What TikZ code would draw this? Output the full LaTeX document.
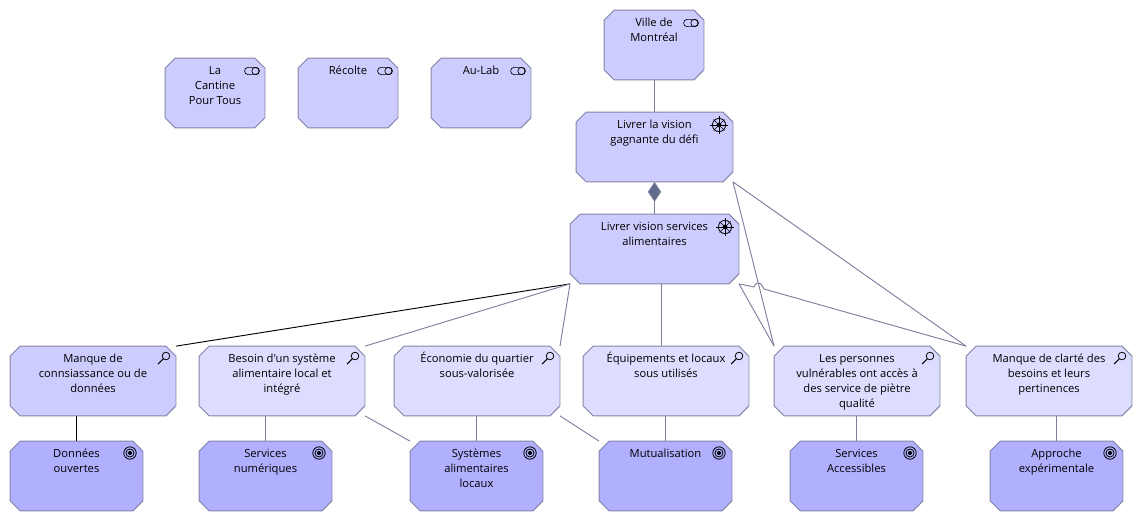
\documentclass[tikz,border=0pt]{standalone}
\usepackage{fontspec}
\newfontfamily\boxfont{Open Sans}
\usetikzlibrary{arrows.meta}
\definecolor{edgeblue}{HTML}{8484A8}
\definecolor{lineblue}{HTML}{7C7F9C}
\definecolor{diamblue}{HTML}{5F6A8C}
\definecolor{lightbox}{HTML}{CCCCFF}
\definecolor{paleboxc}{HTML}{DDDDFF}
\definecolor{darkbox}{HTML}{B0B0FF}
\tikzset{
	archibox/.style n args={3}{rectangle,inner sep=0pt,
		minimum width=(#1-0.6)*0.75pt,minimum height=(#2-0.8)*0.75pt,
		append after command={\pgfextra{
			\draw[fill=#3,draw=edgeblue,line width=0.7pt]
				([xshift=7.5pt]\tikzlastnode.north west) -- ([xshift=-7.5pt]\tikzlastnode.north east)
				-- ([yshift=-7.5pt]\tikzlastnode.north east) -- ([yshift=7.5pt]\tikzlastnode.south east)
				-- ([xshift=-7.5pt]\tikzlastnode.south east) -- ([xshift=7.5pt]\tikzlastnode.south west)
				-- ([yshift=7.5pt]\tikzlastnode.south west) -- ([yshift=-7.5pt]\tikzlastnode.north west) -- cycle;
		}}},
	boxtext/.style={anchor=north,align=center,font=\boxfont\fontsize{8.4}{11.25}\selectfont,inner sep=0pt,yshift=-6pt},
	conn/.style={draw=lineblue,line width=0.7pt},
	role/.pic={
		\draw[line width=0.5pt,rounded corners=2.6pt] (-7.4,-3.6) rectangle (7.4,3.6);
		\draw[line width=0.5pt] (3.4,0) circle[radius=3.6];
	},
	wheel/.pic={
		\draw[line width=0.6pt] (0,0) circle[radius=6.6];
		\fill (0,0) circle[radius=2.4];
		\draw[line width=0.5pt] (-9,0) -- (9,0) (0,-9) -- (0,9);
		\draw[line width=0.4pt] (-5.5,-5.5) -- (5.5,5.5) (-5.5,5.5) -- (5.5,-5.5);
	},
	loupe/.pic={
		\draw[line width=0.6pt] (2,-2) circle[radius=3.8];
		\draw[line width=0.8pt] (-0.8,0.8) -- (-6,6);
	},
	target/.pic={
		\draw[line width=0.6pt] (0,0) circle[radius=6.2];
		\draw[line width=0.6pt] (0,0) circle[radius=4];
		\fill (0,0) circle[radius=2];
	}
}
\begin{document}
\begin{tikzpicture}[x=0.75pt,y=-0.75pt]
	\useasboundingbox (0,0) rectangle (1142,521);
	% top row
	\node[archibox={100}{70}{lightbox}] (cantine) at (215,93) {};
	\node[boxtext] (cantinetxt) at (cantine.north) {La\\Cantine\\Pour Tous};
	\pic at (252,71) {role};
	\node[archibox={100}{70}{lightbox}] (recolte) at (348,93) {};
	\node[boxtext] (recoltetxt) at (recolte.north) {Récolte};
	\pic at (385,71) {role};
	\node[archibox={100}{70}{lightbox}] (aulab) at (481,93) {};
	\node[boxtext] (aulabtxt) at (aulab.north) {Au-Lab};
	\pic at (518,71) {role};
	\node[archibox={100}{70}{lightbox}] (ville) at (654,45) {};
	\node[boxtext] (villetxt) at (ville.north) {Ville de\\Montréal};
	\pic at (691,23) {role};
	% visions
	\node[archibox={157}{70}{lightbox}] (gagnante) at (654.5,147) {};
	\node[boxtext] (gagnantetxt) at (gagnante.north) {Livrer la vision\\gagnante du défi};
	\pic at (719,125) {wheel};
	\node[archibox={169}{70}{lightbox}] (services) at (654.5,249) {};
	\node[boxtext] (servicestxt) at (services.north) {Livrer vision services\\alimentaires};
	\pic at (725,227) {wheel};
	% constats
	\node[archibox={166}{70}{lightbox}] (manque) at (93,381) {};
	\node[boxtext] (manquetxt) at (manque.north) {Manque de\\connsiassance ou de\\données};
	\pic at (164,358) {loupe};
	\node[archibox={166}{70}{paleboxc}] (besoin) at (282,381) {};
	\node[boxtext] (besointxt) at (besoin.north) {Besoin d'un système\\alimentaire local et\\intégré};
	\pic at (353,358) {loupe};
	\node[archibox={166}{70}{paleboxc}] (economie) at (477,381) {};
	\node[boxtext,yshift=1.7pt] (economietxt) at (economie.north) {Économie du quartier\\sous-valorisée};
	\pic at (548,358) {loupe};
	\node[archibox={166}{70}{paleboxc}] (equipe) at (666,381) {};
	\node[boxtext,yshift=1.7pt] (equipetxt) at (equipe.north) {Équipements et locaux\\sous utilisés};
	\pic at (737,358) {loupe};
	\node[archibox={166}{70}{paleboxc}] (personnes) at (857,381) {};
	\node[boxtext] (personnestxt) at (personnes.north) {Les personnes\\vulnérables ont accès à\\des service de piètre\\qualité};
	\pic at (928,358) {loupe};
	\node[archibox={166}{70}{paleboxc}] (clarte) at (1049,381) {};
	\node[boxtext] (clartetxt) at (clarte.north) {Manque de clarté des\\besoins et leurs\\pertinences};
	\pic at (1120,358) {loupe};
	% objectifs
	\node[archibox={133}{70}{darkbox}] (ouvertes) at (76.5,476) {};
	\node[boxtext] (ouvertestxt) at (ouvertes.north) {Données\\ouvertes};
	\pic at (130,453) {target};
	\node[archibox={133}{70}{darkbox}] (numeriques) at (265.5,476) {};
	\node[boxtext] (numeriquestxt) at (numeriques.north) {Services\\numériques};
	\pic at (319,453) {target};
	\node[archibox={133}{70}{darkbox}] (systemes) at (476.5,476) {};
	\node[boxtext] (systemestxt) at (systemes.north) {Systèmes\\alimentaires\\locaux};
	\pic at (530,453) {target};
	\node[archibox={133}{70}{darkbox}] (mutual) at (665.5,476) {};
	\node[boxtext] (mutualtxt) at (mutual.north) {Mutualisation};
	\pic at (719,453) {target};
	\node[archibox={133}{70}{darkbox}] (accessibles) at (856.5,476) {};
	\node[boxtext] (accessiblestxt) at (accessibles.north) {Services\\Accessibles};
	\pic at (910,453) {target};
	\node[archibox={133}{70}{darkbox}] (approche) at (1056.5,476) {};
	\node[boxtext] (approchetxt) at (approche.north) {Approche\\expérimentale};
	\pic at (1110,453) {target};
	% connectors
	\draw[conn] (ville.south) -- (ville.south |- gagnante.north);
	\draw[conn,{Diamond[length=15pt,width=10pt,fill=diamblue]}-] (gagnante.south) -- (gagnante.south |- services.north);
	\draw[black,line width=0.7pt] (services.south west) -- (manque.north east);
	\draw[conn] (services.south west) -- (besoin.north east);
	\draw[conn] (services.south west) -- (economie.north east);
	\draw[conn] ([xshift=-3.75pt]equipe.north) -- ([xshift=-3.75pt]equipe.north |- services.south);
	\draw[conn] (services.south east) -- (personnes.north west);
	\draw[conn] (gagnante.south east) -- (personnes.north west);
	\draw[conn] (gagnante.south east) -- (clarte.north west);
	\draw[conn] (services.south east) -- (754,287) .. controls (755,283) and (758,282) .. (761,284) -- (764,289) -- (clarte.north west);
	\draw[black,line width=0.7pt] (manque.south -| ouvertes.north) -- (ouvertes.north);
	\draw[conn] (besoin.south -| numeriques.north) -- (numeriques.north);
	\draw[conn] (besoin.south east) -- (systemes.north west);
	\draw[conn] (economie.south -| systemes.north) -- (systemes.north);
	\draw[conn] (economie.south east) -- (mutual.north west);
	\draw[conn] (equipe.south -| mutual.north) -- (mutual.north);
	\draw[conn] (personnes.south -| accessibles.north) -- (accessibles.north);
	\draw[conn] (clarte.south -| approche.north) -- (approche.north);
\end{tikzpicture}
\end{document}
